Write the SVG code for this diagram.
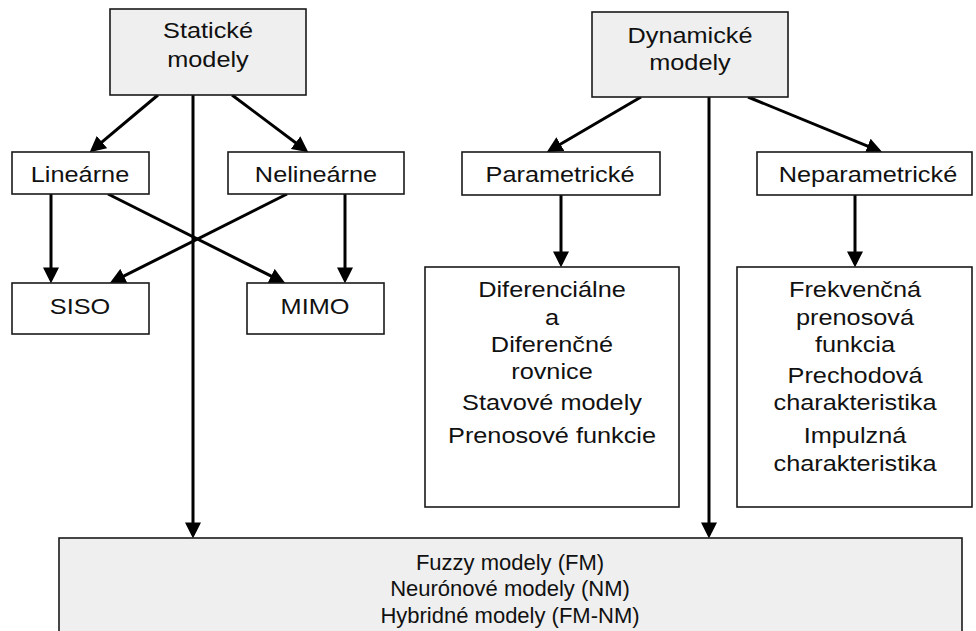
<svg xmlns="http://www.w3.org/2000/svg" width="976" height="631" viewBox="0 0 976 631">
  <style>
    .box { fill: #ffffff; stroke: #1a1a1a; stroke-width: 1.6; }
    .grey { fill: #efefef; }
    .lbl { font-family: "Liberation Sans", Arial, sans-serif; font-size: 22px; fill: #111111; text-anchor: middle; }
    .wire { stroke: #000000; stroke-width: 3; fill: none; marker-end: url(#head); }
  </style>
  <defs>
    <marker id="head" markerUnits="userSpaceOnUse" markerWidth="16" markerHeight="16" viewBox="0 0 14 14" refX="11" refY="7" orient="auto">
      <path d="M0,0 L14,7 L0,14 z" fill="#000000"/>
    </marker>
  </defs>

  <rect width="976" height="631" fill="#ffffff"/>

  <!-- connectors -->
  <g id="connectors">
    <line class="wire" x1="158" y1="95" x2="92.3" y2="150.1"/>
    <line class="wire" x1="232" y1="95" x2="305.6" y2="150.2"/>
    <line class="wire" x1="193" y1="95" x2="193" y2="535"/>
    <line class="wire" x1="51" y1="194" x2="51" y2="280"/>
    <line class="wire" x1="108" y1="194" x2="282.3" y2="281.7"/>
    <line class="wire" x1="287" y1="194" x2="112.7" y2="281.7"/>
    <line class="wire" x1="345" y1="194" x2="345" y2="280"/>
    <line class="wire" x1="641" y1="97" x2="549.6" y2="150.5"/>
    <line class="wire" x1="748" y1="97" x2="879.2" y2="150.9"/>
    <line class="wire" x1="709" y1="97" x2="709" y2="535"/>
    <line class="wire" x1="561" y1="195" x2="561" y2="264"/>
    <line class="wire" x1="855" y1="195" x2="855" y2="264"/>
  </g>

  <g id="staticke">
    <rect class="box grey" x="110" y="9" width="196" height="86"/>
    <text class="lbl" transform="translate(208 38) scale(1.15 1)">Statické</text>
    <text class="lbl" transform="translate(208 67) scale(1.15 1)">modely</text>
  </g>

  <g id="dynamicke">
    <rect class="box grey" x="592" y="12" width="196" height="85"/>
    <text class="lbl" transform="translate(690 43) scale(1.15 1)">Dynamické</text>
    <text class="lbl" transform="translate(690 70) scale(1.15 1)">modely</text>
  </g>

  <g id="linearne">
    <rect class="box" x="12" y="152" width="137" height="42"/>
    <text class="lbl" transform="translate(80 182) scale(1.15 1)">Lineárne</text>
  </g>

  <g id="nelinearne">
    <rect class="box" x="228" y="152" width="176" height="42"/>
    <text class="lbl" transform="translate(316 182) scale(1.15 1)">Nelineárne</text>
  </g>

  <g id="siso">
    <rect class="box" x="12" y="283" width="137" height="51"/>
    <text class="lbl" transform="translate(80 314) scale(1.15 1)">SISO</text>
  </g>

  <g id="mimo">
    <rect class="box" x="247" y="283" width="137" height="51"/>
    <text class="lbl" transform="translate(315 314) scale(1.15 1)">MIMO</text>
  </g>

  <g id="parametricke">
    <rect class="box" x="462" y="152" width="198" height="43"/>
    <text class="lbl" transform="translate(560 182) scale(1.15 1)">Parametrické</text>
  </g>

  <g id="neparametricke">
    <rect class="box" x="757" y="152" width="215" height="43"/>
    <text class="lbl" transform="translate(868 182) scale(1.15 1)">Neparametrické</text>
  </g>

  <g id="rovnice">
    <rect class="box" x="425" y="267" width="254" height="240"/>
    <text class="lbl" transform="translate(552 297) scale(1.15 1)">Diferenciálne</text>
    <text class="lbl" transform="translate(552 325) scale(1.15 1)">a</text>
    <text class="lbl" transform="translate(552 352) scale(1.15 1)">Diferenčné</text>
    <text class="lbl" transform="translate(552 379) scale(1.15 1)">rovnice</text>
    <text class="lbl" transform="translate(552 410) scale(1.15 1)">Stavové modely</text>
    <text class="lbl" transform="translate(552 443) scale(1.15 1)">Prenosové funkcie</text>
  </g>

  <g id="charakteristiky">
    <rect class="box" x="737" y="267" width="235" height="240"/>
    <text class="lbl" transform="translate(855 297) scale(1.15 1)">Frekvenčná</text>
    <text class="lbl" transform="translate(855 325) scale(1.15 1)">prenosová</text>
    <text class="lbl" transform="translate(855 352) scale(1.15 1)">funkcia</text>
    <text class="lbl" transform="translate(855 383) scale(1.15 1)">Prechodová</text>
    <text class="lbl" transform="translate(855 410) scale(1.15 1)">charakteristika</text>
    <text class="lbl" transform="translate(855 443) scale(1.15 1)">Impulzná</text>
    <text class="lbl" transform="translate(855 471) scale(1.15 1)">charakteristika</text>
  </g>

  <g id="inteligentne">
    <rect class="box grey" x="59" y="538" width="903" height="110"/>
    <text class="lbl" transform="translate(510 570) scale(1.0 1)">Fuzzy modely (FM)</text>
    <text class="lbl" transform="translate(510 596) scale(1.0 1)">Neurónové modely (NM)</text>
    <text class="lbl" transform="translate(510 623) scale(1.0 1)">Hybridné modely (FM-NM)</text>
  </g>
</svg>
